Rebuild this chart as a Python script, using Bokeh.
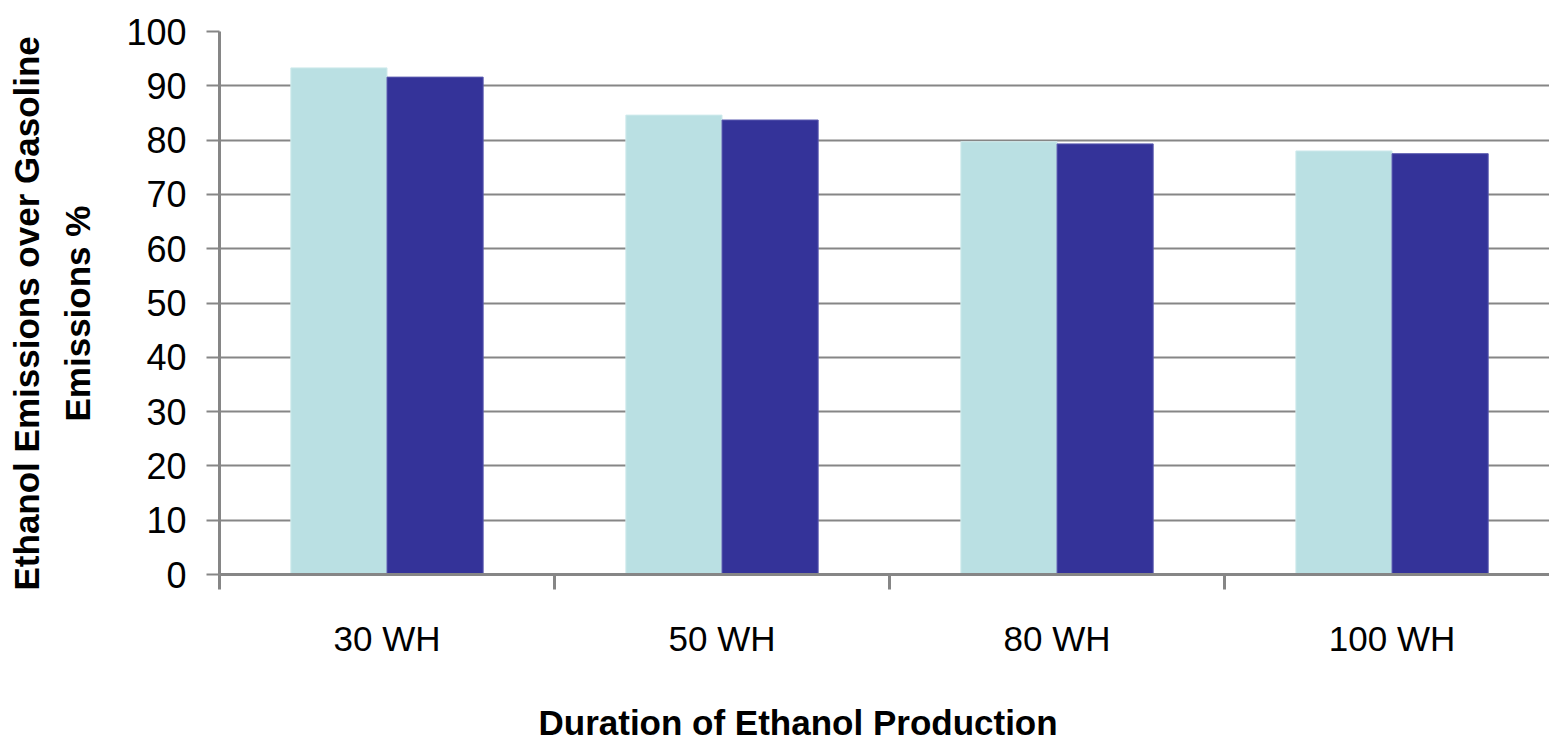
from bokeh.plotting import figure
from bokeh.models import ColumnDataSource, Range1d, FixedTicker, LinearAxis, Title, CustomJSTickFormatter
from bokeh.transform import dodge
from bokeh.embed import file_html
from bokeh.resources import INLINE

categories = ["30 WH", "50 WH", "80 WH", "100 WH"]
light_values = [93.3, 84.6, 79.7, 78.0]
dark_values = [91.6, 83.7, 79.3, 77.5]
y_ticks = [0, 10, 20, 30, 40, 50, 60, 70, 80, 90, 100]
x_title = "Duration of Ethanol Production"
y_title_1 = "Ethanol Emissions over Gasoline"
y_title_2 = "Emissions %"

FONT = "Liberation Sans"
GRAY = "#868686"

positions = [i + 0.5 for i in range(len(categories))]
boundaries = [i for i in range(len(categories) + 1)]
source = ColumnDataSource(dict(x=positions, light=light_values, dark=dark_values, cat=categories))

p = figure(width=1549, height=744, x_range=Range1d(0, 3.97), y_range=Range1d(0, 100),
           output_backend="svg", toolbar_location=None, x_axis_type=None,
           min_border_left=219, min_border_right=0, min_border_top=31, min_border_bottom=170)
p.outline_line_color = None
p.background_fill_color = "white"

p.vbar(x=dodge("x", -0.1435, range=p.x_range), top="light", width=0.287, source=source,
       fill_color="#BAE0E3", line_color="#CFEAEC", line_width=1)
p.vbar(x=dodge("x", 0.1435, range=p.x_range), top="dark", width=0.287, source=source,
       fill_color="#343399", line_color="#5B5BB0", line_width=1)

p.xgrid.visible = False
p.ygrid.ticker = FixedTicker(ticks=y_ticks)
p.ygrid.grid_line_color = GRAY
p.ygrid.grid_line_width = 2

ya = p.yaxis[0]
ya.ticker = FixedTicker(ticks=y_ticks)
ya.major_tick_out = 13
ya.major_tick_in = 0
ya.major_tick_line_color = GRAY
ya.major_tick_line_width = 2
ya.minor_tick_line_color = None
ya.axis_line_color = GRAY
ya.axis_line_width = 3
ya.major_label_text_font = FONT
ya.major_label_text_font_size = "36px"
ya.major_label_text_color = "black"
ya.major_label_standoff = 20

xa = LinearAxis(ticker=FixedTicker(ticks=positions, minor_ticks=boundaries),
                axis_line_color=GRAY, axis_line_width=3,
                major_tick_line_color=None, major_tick_out=0, major_tick_in=0,
                minor_tick_line_color=GRAY, minor_tick_line_width=3,
                minor_tick_out=15, minor_tick_in=0,
                major_label_text_font=FONT, major_label_text_font_size="35px",
                major_label_text_color="black", major_label_standoff=29,
                formatter=CustomJSTickFormatter(args=dict(labels=categories),
                                                code="return labels[Math.floor(tick)]"))
p.add_layout(xa, "below")

# invisible spacer axis (white tick on white, no labels) to push the x title down
spacer = LinearAxis(ticker=FixedTicker(ticks=[positions[0]]), axis_line_color=None,
                    major_tick_line_color="white", minor_tick_line_color=None,
                    major_tick_out=38, major_tick_in=0, minor_tick_out=0, minor_tick_in=0,
                    major_label_standoff=0, major_label_text_color=None,
                    formatter=CustomJSTickFormatter(code="return ''"))
p.add_layout(spacer, "below")

title_style = dict(text_font=FONT, text_font_size="35px", text_font_style="bold", text_color="black")
p.add_layout(Title(text=x_title, align="left", offset=319, standoff=4, **title_style), "below")
p.add_layout(Title(text=y_title_2, align="left", offset=153, standoff=54, **title_style), "left")
p.add_layout(Title(text=y_title_1, align="left", offset=-16, standoff=-34, **title_style), "left")

open("out.html", "w").write(file_html(p, INLINE))
